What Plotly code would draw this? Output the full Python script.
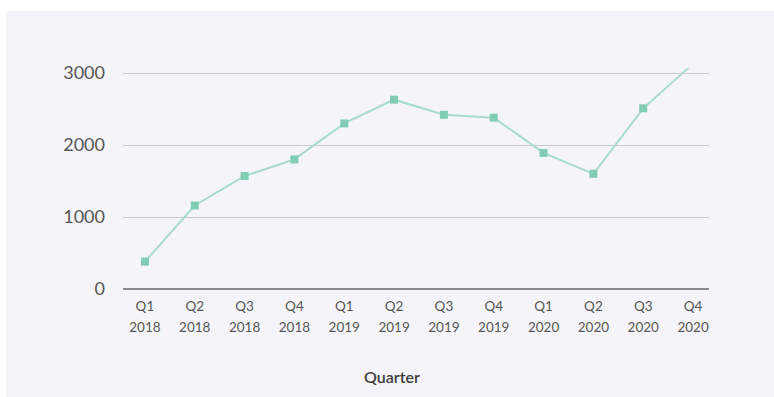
import plotly.graph_objects as go

quarters = ["Q1", "Q2", "Q3", "Q4", "Q1", "Q2", "Q3", "Q4", "Q1", "Q2", "Q3", "Q4"]
years = ["2018"] * 4 + ["2019"] * 4 + ["2020"] * 4
values = [380, 1160, 1570, 1800, 2300, 2630, 2420, 2380, 1890, 1600, 2510, 3130]
y_ticks = [0, 1000, 2000, 3000]

W, H = 774, 397
L, R, T, B = 123, 65, 68, 108
pw, ph = W - L - R, H - T - B

x_idx = list(range(len(values)))
tick_text = [f"<span style='font-size:13.5px'>{q}</span><br><span style='font-size:13.5px'>{y}</span>"
             for q, y in zip(quarters, years)]

fig = go.Figure()
fig.add_trace(go.Scatter(
    x=x_idx, y=values, mode="lines+markers",
    line=dict(color="#a6dcc9", width=2),
    marker=dict(symbol="square", size=8, color="#80cdb3"),
    cliponaxis=True, hoverinfo="skip", showlegend=False,
))

def px_x(p):
    return (p - L) / pw

def px_y(p):
    return (H - B - p) / ph

fig.add_shape(type="rect", xref="paper", yref="paper",
              x0=px_x(6), x1=px_x(W + 2), y0=px_y(H + 2), y1=px_y(11),
              fillcolor="#f5f5f9", line=dict(width=0), layer="below")

fig.add_annotation(text="Quarter", xref="paper", yref="paper",
                   x=px_x(392), y=px_y(376), xanchor="center", yanchor="middle",
                   showarrow=False,
                   font=dict(family="Lato", size=16, weight=600, color="#3c3c3c"))

fig.update_layout(
    width=W, height=H,
    margin=dict(l=L, r=R, t=T, b=B, pad=0),
    paper_bgcolor="white", plot_bgcolor="rgba(0,0,0,0)",
    font=dict(family="Lato", color="#555555"),
    xaxis=dict(
        range=[-0.44, 11.32], tickmode="array", tickvals=x_idx, ticktext=tick_text,
        showgrid=False, zeroline=False, showline=False, ticks="",
        tickfont=dict(family="Lato", size=16, color="#555555"),
        ticklabelstandoff=5,
    ),
    yaxis=dict(
        range=[0, 3070], tickmode="array", tickvals=y_ticks,
        ticktext=[str(v) for v in y_ticks],
        showgrid=True, gridcolor="#c9c9ce", gridwidth=1,
        zeroline=True, zerolinecolor="#8a8a8e", zerolinewidth=2,
        showline=False, ticks="",
        tickfont=dict(family="Lato", size=18, color="#555555"),
        ticklabelstandoff=17,
    ),
)

fig.write_html("out.html")
